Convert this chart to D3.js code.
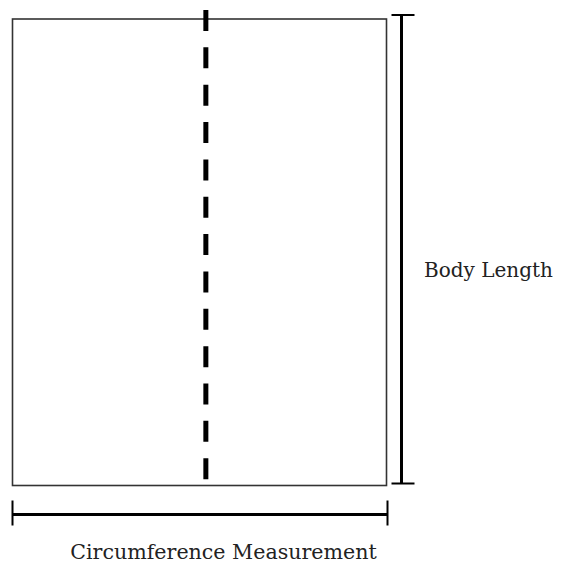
<!DOCTYPE html>
<html>
<head>
<meta charset="utf-8">
<script src="https://cdn.jsdelivr.net/npm/d3@7"></script>
<style>
  body { margin: 0; background: #fff; }
  text { font-family: "DejaVu Serif", "Liberation Serif", serif; fill: #222; }
</style>
</head>
<body>
<script>
// garment panel, in percent of its own width / length
var panelX = [0, 100];
var panelY = [0, 100];
var foldAt = [51.7];           // dashed fold line, % of width
var labels = ["Body Length", "Circumference Measurement"];

var svg = d3.select("body")
  .append("svg")
  .attr("width", 566)
  .attr("height", 573);

var x = d3.scaleLinear().domain(panelX).range([12.5, 386.5]);
var y = d3.scaleLinear().domain(panelY).range([19, 485.5]);

// panel outline
svg.append("rect")
  .attr("x", x(panelX[0]))
  .attr("y", y(panelY[0]))
  .attr("width", x(panelX[1]) - x(panelX[0]))
  .attr("height", y(panelY[1]) - y(panelY[0]))
  .attr("fill", "none")
  .attr("stroke", "#333")
  .attr("stroke-width", 1.6);

// fold line
svg.selectAll("line.fold").data(foldAt).enter()
  .append("line")
  .attr("class", "fold")
  .attr("x1", function(d) { return x(d); })
  .attr("x2", function(d) { return x(d); })
  .attr("y1", y(panelY[0]) - 9)
  .attr("y2", y(panelY[1]) - 6)
  .attr("stroke", "#000")
  .attr("stroke-width", 5)
  .attr("stroke-dasharray", "21 16.35");

// length dimension (right)
var lx = x(panelX[1]) + 15;
var vert = svg.append("g").attr("stroke", "#000").attr("stroke-width", 3);
vert.append("line").attr("x1", lx).attr("x2", lx).attr("y1", y(panelY[0]) - 4).attr("y2", y(panelY[1]) - 2);
vert.append("line").attr("x1", lx - 10).attr("x2", lx + 13).attr("y1", y(panelY[0]) - 4).attr("y2", y(panelY[0]) - 4).attr("stroke-width", 2);
vert.append("line").attr("x1", lx - 10).attr("x2", lx + 13).attr("y1", y(panelY[1]) - 2).attr("y2", y(panelY[1]) - 2).attr("stroke-width", 2);

// circumference dimension (bottom)
var hy = y(panelY[1]) + 29;
var horiz = svg.append("g").attr("stroke", "#000").attr("stroke-width", 3);
horiz.append("line").attr("x1", x(panelX[0])).attr("x2", x(panelX[1]) + 1).attr("y1", hy).attr("y2", hy);
horiz.append("line").attr("x1", x(panelX[0])).attr("x2", x(panelX[0])).attr("y1", hy - 14).attr("y2", hy + 11).attr("stroke-width", 2);
horiz.append("line").attr("x1", x(panelX[1]) + 1).attr("x2", x(panelX[1]) + 1).attr("y1", hy - 14).attr("y2", hy + 11).attr("stroke-width", 2);

svg.append("text")
  .attr("x", 424)
  .attr("y", y(50) + 25)
  .attr("font-size", 20)
  .text(labels[0]);

svg.append("text")
  .attr("x", (x(panelX[0]) + x(panelX[1])) / 2 + 24)
  .attr("y", 559)
  .attr("text-anchor", "middle")
  .attr("font-size", 20.6)
  .text(labels[1]);
</script>
</body>
</html>
